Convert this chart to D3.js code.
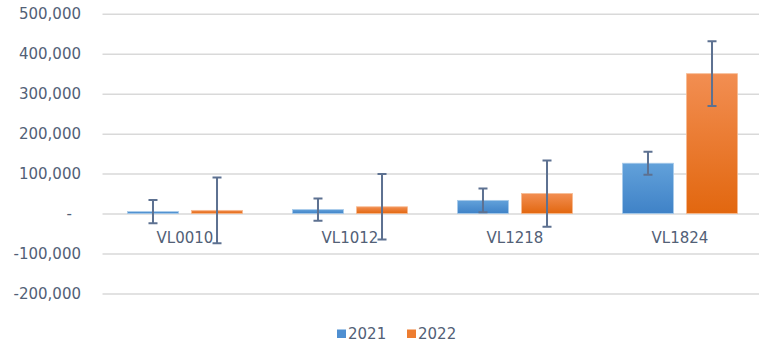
<!DOCTYPE html>
<html>
<head>
<meta charset="utf-8">
<script src="https://cdn.jsdelivr.net/npm/d3@7"></script>
<style>
  html, body { margin: 0; padding: 0; background: #ffffff; }
  svg { display: block; }
  text { font-family: "DejaVu Sans", sans-serif; font-size: 15px; fill: #526076; }
</style>
</head>
<body>
<svg id="chart" width="759" height="344"></svg>
<script>
// Vessel length classes and the two years compared
const categories = ["VL0010", "VL1012", "VL1218", "VL1824"];
const years = ["2021", "2022"];

// Bar values per class, one array per year
const values2021 = [5000, 10000, 33000, 126000];
const values2022 = [8000, 17000, 50000, 350000];

// Error bar half-widths (±) per class
const errors2021 = [29000, 28000, 30000, 29000];
const errors2022 = [82000, 82000, 83000, 81000];

// Value axis ticks
const yTicks = [-200000, -100000, 0, 100000, 200000, 300000, 400000, 500000];

const textColor = "#526076";
const seriesColors = {
  "2021": { top: "#62a1da", bottom: "#3f82c7", edge: "#a9cbea", key: "#4f8fd1" },
  "2022": { top: "#f28e52", bottom: "#e2670f", edge: "#f7bb92", key: "#ed7d31" }
};

const series = [
  { year: "2021", values: values2021, errors: errors2021 },
  { year: "2022", values: values2022, errors: errors2022 }
];

const svg = d3.select("#chart");
const left = 102.5, right = 762.5;

const y = d3.scaleLinear().domain([-200000, 500000]).range([293.5, 13.75]);
const x = d3.scaleBand().domain(categories).range([left, right]).paddingInner(0).paddingOuter(0);
const xs = d3.scaleBand().domain(years).range([0, x.bandwidth()]).paddingInner(0.203).paddingOuter(0.39);

// Gradients for the bar fills
const defs = svg.append("defs");
years.forEach(yr => {
  const g = defs.append("linearGradient")
    .attr("id", "grad" + yr).attr("x1", 0).attr("y1", 0).attr("x2", 0).attr("y2", 1);
  g.append("stop").attr("offset", "0%").attr("stop-color", seriesColors[yr].top);
  g.append("stop").attr("offset", "100%").attr("stop-color", seriesColors[yr].bottom);
});

// Horizontal gridlines
const grid = svg.append("g")
  .attr("transform", `translate(${left},0)`)
  .call(d3.axisLeft(y).tickValues(yTicks).tickSize(-(right - left)).tickFormat(""));
grid.select(".domain").remove();
grid.selectAll("line").attr("stroke", "#d9d9d9").attr("stroke-width", 1.5);

// Value axis labels (accounting style: zero shown as a dash, plain hyphen for negatives)
const locale = d3.formatLocale({ decimal: ".", thousands: ",", grouping: [3], currency: ["", ""], minus: "-" });
const fmt = locale.format(",");
const yAxis = svg.append("g")
  .attr("transform", `translate(${left},0)`)
  .call(d3.axisLeft(y).tickValues(yTicks).tickSize(0).tickPadding(21.5)
    .tickFormat(d => d === 0 ? "-" : fmt(d)));
yAxis.select(".domain").remove();
yAxis.selectAll("text")
  .style("font-family", "'DejaVu Sans', sans-serif").style("font-size", "15px")
  .attr("fill", textColor)
  .attr("dx", d => d === 0 ? -9 : 0);

// Bars
const groups = svg.append("g").selectAll("g")
  .data(series).join("g");

groups.selectAll("rect")
  .data(s => s.values.map((v, i) => ({ year: s.year, cat: categories[i], v })))
  .join("rect")
  .attr("x", d => x(d.cat) + xs(d.year))
  .attr("width", xs.bandwidth())
  .attr("y", d => y(Math.max(0, d.v)))
  .attr("height", d => Math.abs(y(d.v) - y(0)))
  .attr("fill", d => `url(#grad${d.year})`)
  .attr("stroke", d => seriesColors[d.year].edge)
  .attr("stroke-width", 0.8);

// Category axis labels, sitting under the zero line
const xAxis = svg.append("g")
  .attr("transform", `translate(0,${y(0)})`)
  .call(d3.axisBottom(x).tickSize(0).tickPadding(19));
xAxis.select(".domain").remove();
xAxis.selectAll("text")
  .style("font-family", "'DejaVu Sans', sans-serif").style("font-size", "15px")
  .attr("fill", textColor);

// Error bars
const errData = series.flatMap(s => s.values.map((v, i) => ({
  year: s.year, cat: categories[i], v, e: s.errors[i]
})));
const eb = svg.append("g").attr("stroke", "#5d7191").attr("stroke-width", 2).attr("fill", "none");
const cx = d => x(d.cat) + xs(d.year) + xs.bandwidth() / 2;
const cap = 4.5;
eb.selectAll("path")
  .data(errData)
  .join("path")
  .attr("d", d => {
    const t = y(d.v + d.e), b = y(d.v - d.e), c = cx(d);
    return `M${c},${t}V${b}M${c - cap},${t}H${c + cap}M${c - cap},${b}H${c + cap}`;
  });

// Legend
const legend = svg.append("g");
const legendPos = [{ year: "2021", x: 337 }, { year: "2022", x: 407 }];
legendPos.forEach(l => {
  legend.append("rect")
    .attr("x", l.x).attr("y", 329.5).attr("width", 9).attr("height", 8.5)
    .attr("fill", seriesColors[l.year].key);
  legend.append("text")
    .attr("x", l.x + 11).attr("y", 338.8)
    .attr("fill", textColor)
    .text(l.year);
});
</script>
</body>
</html>
